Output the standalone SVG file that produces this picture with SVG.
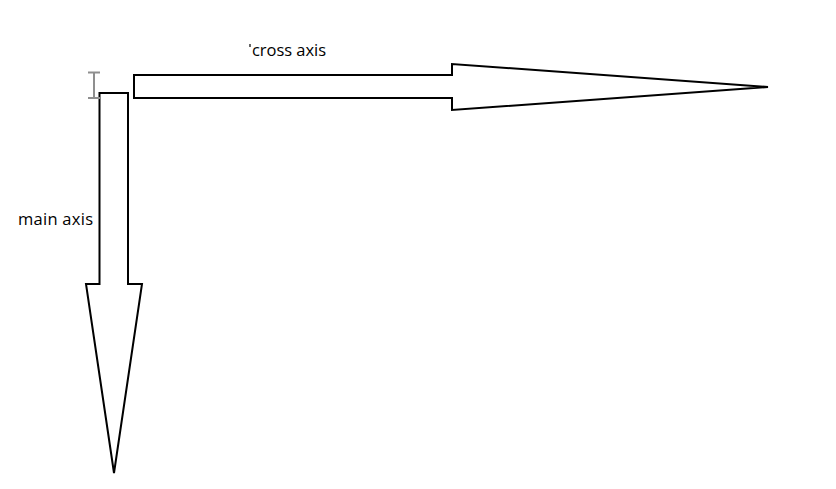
<svg xmlns="http://www.w3.org/2000/svg" width="836" height="489" viewBox="0 0 836 489">
<style>
.arrow{fill:#fff;stroke:#000;stroke-width:2;stroke-linejoin:miter}
.lbl{font-family:"Open Sans","Noto Sans",sans-serif;font-size:16.5px;fill:#000}
.cursor{stroke:#8f8f8f;stroke-width:2;fill:none}
</style>
<rect width="836" height="489" fill="#fff"/>
<g id="connectors">
<g id="cross-axis-arrow">
<polygon class="arrow" points="134,75 452,75 452,64 768,87 452,110 452,98 134,98"/>
</g>
<g id="main-axis-arrow">
<polygon class="arrow" points="99.5,93 128,93 128,284 142,284 114,473 86,284 99.5,284"/>
</g>
</g>
<g id="cross-axis-label">
<line x1="250" y1="44" x2="250" y2="47" stroke="#000" stroke-width="1.2"/>
<text class="lbl" x="252" y="55.5" textLength="74" lengthAdjust="spacing">cross axis</text>
</g>
<g id="main-axis-label">
<text class="lbl" x="18" y="225" textLength="75" lengthAdjust="spacing">main axis</text>
</g>
<g id="cursor">
<path class="cursor" d="M88,72.5H100M88,98H100M94,72.5V98"/>
</g>
</svg>
